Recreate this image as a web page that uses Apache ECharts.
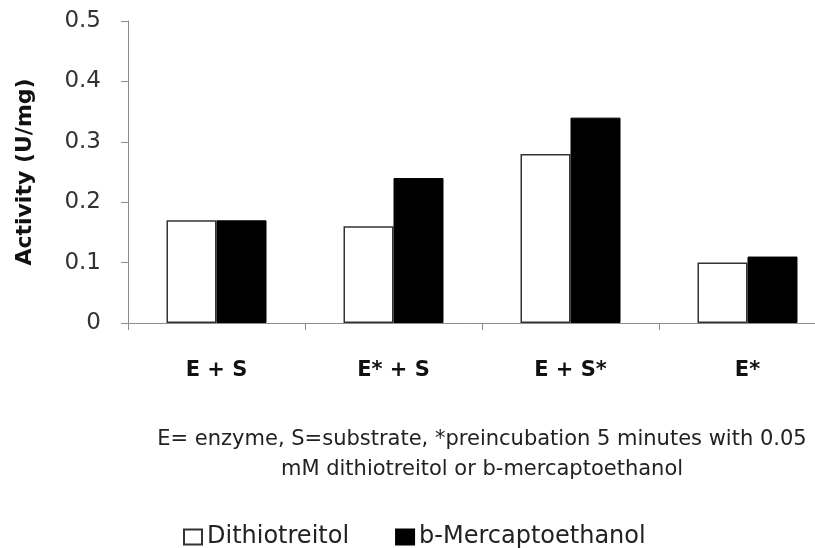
<!DOCTYPE html>
<html>
<head>
<meta charset="utf-8">
<script src="https://cdn.jsdelivr.net/npm/echarts@6/dist/echarts.min.js"></script>
<style>
  html, body { margin: 0; padding: 0; background: #fff; }
  #chart { width: 815px; height: 548px; }
</style>
</head>
<body>
<div id="chart"></div>
<script>
// data
var categories = ['E + S', 'E* + S', 'E + S*', 'E*'];
var dithiotreitol = [0.17, 0.16, 0.28, 0.10];
var mercaptoethanol = [0.17, 0.24, 0.34, 0.11];
var yTicks = [0, 0.1, 0.2, 0.3, 0.4, 0.5];

var font = 'DejaVu Sans';
var myChart = echarts.init(document.getElementById('chart'));
var option = {
  backgroundColor: '#fff',
  animation: false,
  grid: { left: 128, right: -21, top: 21, bottom: 225, outerBoundsMode: 'none' },
  legend: {
    left: 178, top: 520,
    itemWidth: 18, itemHeight: 15, itemGap: 46,
    icon: 'rect',
    textStyle: { fontFamily: font, fontSize: 24, color: '#222' },
    data: ['Dithiotreitol', 'b-Mercaptoethanol']
  },
  xAxis: {
    type: 'category',
    data: categories,
    axisLine: { lineStyle: { color: '#8c8c8c', width: 1 } },
    axisTick: { show: true, length: 7, lineStyle: { color: '#8c8c8c' } },
    axisLabel: { fontFamily: font, fontSize: 21, fontWeight: 'bold', color: '#111', margin: 37 },
    name: 'E= enzyme, S=substrate, *preincubation 5 minutes with 0.05\nmM dithiotreitol or b-mercaptoethanol',
    nameLocation: 'middle',
    nameGap: 102,
    nameTextStyle: { fontFamily: font, fontSize: 21, color: '#222', lineHeight: 30 }
  },
  yAxis: {
    type: 'value',
    min: 0, max: 0.5, interval: 0.1,
    name: 'Activity (U/mg)',
    nameLocation: 'middle',
    nameGap: 92,
    nameTextStyle: { fontFamily: font, fontSize: 22, fontWeight: 'bold', color: '#111' },
    axisLine: { show: true, lineStyle: { color: '#8c8c8c', width: 1 } },
    axisTick: { show: true, length: 7, lineStyle: { color: '#8c8c8c' } },
    splitLine: { show: false },
    axisLabel: {
      fontFamily: font, fontSize: 23, color: '#333', margin: 27,
      formatter: function (v) { return yTicks.indexOf(+v.toFixed(1)) >= 0 ? String(+v.toFixed(1)) : ''; }
    }
  },
  series: [
    {
      name: 'Dithiotreitol',
      type: 'bar',
      data: dithiotreitol,
      barWidth: 50,
      barGap: '0%',
      itemStyle: { color: '#fff', borderColor: '#333', borderWidth: 1.5 }
    },
    {
      name: 'b-Mercaptoethanol',
      type: 'bar',
      data: mercaptoethanol,
      barWidth: 50,
      itemStyle: { color: '#000', borderColor: '#000', borderWidth: 1 }
    }
  ]
};
myChart.setOption(option);
</script>
</body>
</html>
